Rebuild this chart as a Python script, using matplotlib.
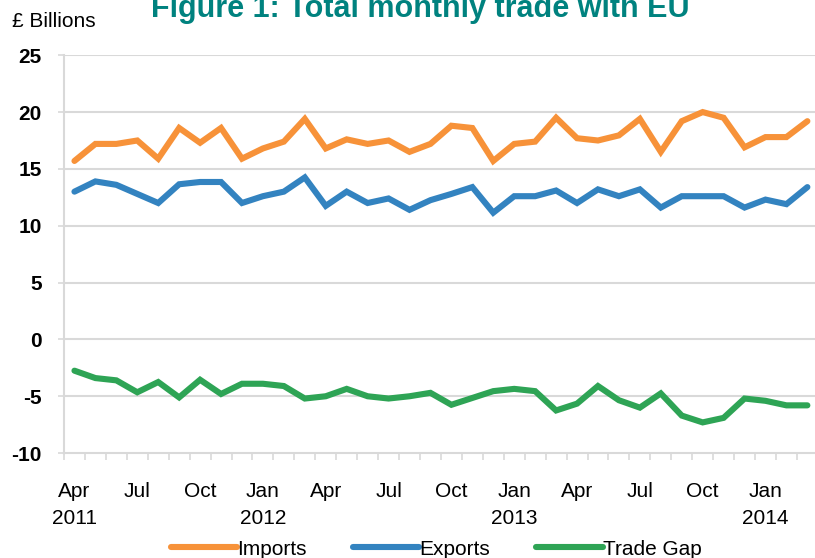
import numpy as np
import matplotlib
matplotlib.use("Agg")
import matplotlib.pyplot as plt

plt.rcParams['font.family'] = ['Liberation Sans', 'DejaVu Sans']

# monthly values, Apr 2011 - Mar 2014 (£ billions)
imports = [15.7, 17.2, 17.2, 17.5, 15.9, 18.6, 17.3, 18.6, 15.9, 16.8, 17.4, 19.4,
           16.8, 17.6, 17.2, 17.5, 16.5, 17.2, 18.8, 18.6, 15.7, 17.2, 17.4, 19.5,
           17.7, 17.5, 17.95, 19.4, 16.5, 19.2, 20.0, 19.5, 16.9, 17.8, 17.8, 19.2]
exports = [13.0, 13.9, 13.6, 12.8, 12.0, 13.65, 13.85, 13.85, 12.0, 12.6, 13.0, 14.25,
           11.75, 13.0, 12.0, 12.4, 11.4, 12.25, 12.8, 13.4, 11.15, 12.6, 12.6, 13.1,
           12.0, 13.2, 12.6, 13.2, 11.6, 12.6, 12.6, 12.6, 11.6, 12.3, 11.9, 13.4]
trade_gap = [-2.75, -3.4, -3.6, -4.65, -3.75, -5.1, -3.55, -4.8, -3.9, -3.9, -4.1, -5.2,
             -5.0, -4.35, -5.0, -5.2, -5.0, -4.7, -5.75, -5.15, -4.55, -4.35, -4.55, -6.25,
             -5.65, -4.1, -5.35, -6.0, -4.75, -6.7, -7.3, -6.9, -5.2, -5.4, -5.8, -5.8]
tick_labels = ["Apr\n2011", "Jul", "Oct", "Jan\n2012", "Apr", "Jul", "Oct", "Jan\n2013",
               "Apr", "Jul", "Oct", "Jan\n2014"]

x = np.arange(len(imports))

fig = plt.figure(figsize=(8.15, 5.58), dpi=100)
ax = fig.add_axes([0.0785, 0.188, 0.925, 0.713])

grid_col = '#d9d9d9'
for v in range(-5, 30, 5):
    ax.axhline(v, color=grid_col, lw=1.5, zorder=1)

style = dict(lw=4.4, zorder=3, solid_capstyle='round', solid_joinstyle='miter')
ax.plot(x, imports, color='#F79239', label='Imports', **style)
ax.plot(x, exports, color='#3383C0', label='Exports', **style)
ax.plot(x, trade_gap, color='#2EA455', label='Trade Gap', **style)

ax.set_xlim(-0.5, len(imports) - 0.5)
ax.set_ylim(-10, 25)
ax.set_yticks(range(-10, 30, 5))
ax.set_yticklabels([str(v) for v in range(-10, 30, 5)], fontweight='bold', fontsize=15)

ax.set_xticks(x[::3])
ax.set_xticklabels(tick_labels, fontsize=15)
for lab in ax.get_xticklabels():
    lab.set_linespacing(1.5)
    lab.set_verticalalignment('top')
ax.set_xticks(np.arange(-0.5, len(imports)), minor=True)
ax.tick_params(axis='x', which='major', length=0, pad=21)
ax.tick_params(axis='x', which='minor', length=5, color=grid_col, width=1.2)
ax.tick_params(axis='y', length=4, color=grid_col, width=1.2, pad=12)

for s in ['top', 'right']:
    ax.spines[s].set_visible(False)
for s in ['left', 'bottom']:
    ax.spines[s].set_color(grid_col)
    ax.spines[s].set_linewidth(1.5)

fig.text(0.015, 0.962, "£ Billions", fontsize=15, va='center', ha='left')
fig.text(0.516, 0.983, "Figure 1: Total monthly trade with EU", fontsize=22,
         fontweight='bold', color='#00827F', ha='center', va='center')

fig.legend(loc='lower center', bbox_to_anchor=(0.535, -0.035), ncol=3, frameon=False,
           fontsize=15, handlelength=3.2, handletextpad=0.0, columnspacing=2.2)

fig.savefig("out.png", dpi=100)
